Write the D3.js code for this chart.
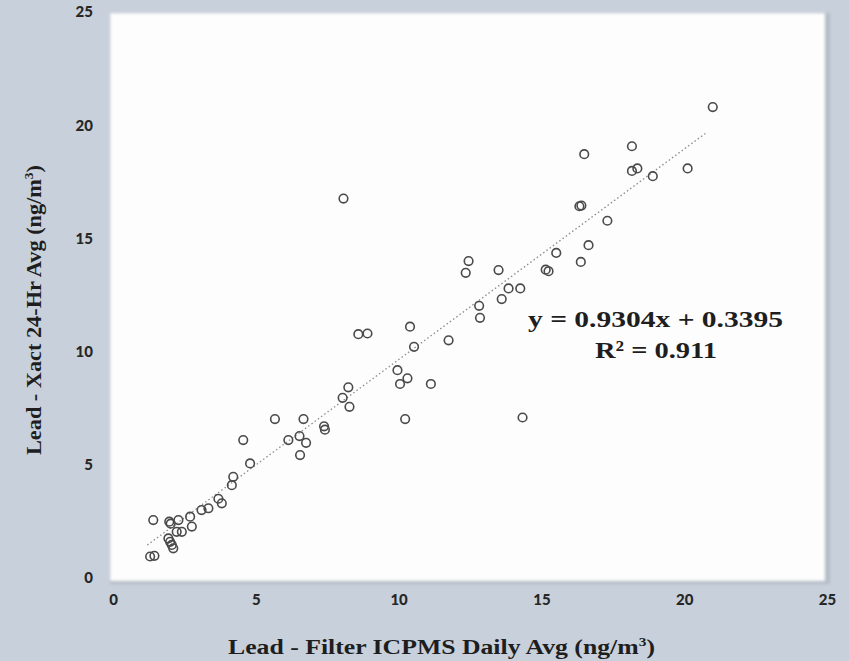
<!DOCTYPE html>
<html>
<head>
<meta charset="utf-8">
<script src="https://cdn.jsdelivr.net/npm/d3@7"></script>
<style>
  body { margin: 0; background: #c8d0db; }
  svg { display: block; }
</style>
</head>
<body>
<script>
// Filter ICPMS daily avg (x) vs Xact 24-hr avg (y), ng/m3
const xVals = [1.30, 1.45, 1.41, 1.97, 2.29, 2.70, 2.76, 2.41, 2.23, 1.94, 2.00, 2.06, 2.11, 2.02,
  3.10, 3.34, 3.69, 3.81, 4.21, 4.16, 4.56, 4.80, 5.67, 6.14, 6.53, 6.76, 6.55, 6.67, 7.39, 7.42,
  8.04, 8.24, 8.28, 8.07, 8.59, 8.91, 9.96, 10.05, 10.31, 10.23, 10.40, 10.54, 11.13, 11.75,
  12.35, 12.45, 12.82, 12.85, 13.50, 13.61, 13.85, 14.26, 14.34, 15.15, 15.25, 15.52, 16.38,
  16.33, 16.40, 16.65, 16.50, 17.31, 18.17, 18.17, 18.36, 18.90, 20.12, 21.00];
const yVals = [0.95, 0.98, 2.56, 2.49, 2.56, 2.71, 2.27, 2.04, 2.04, 1.75, 1.60, 1.46, 1.31, 2.40,
  3.00, 3.08, 3.50, 3.30, 4.47, 4.10, 6.09, 5.06, 7.02, 6.09, 6.27, 5.97, 5.43, 7.02, 6.70, 6.55,
  7.96, 8.42, 7.56, 16.76, 10.77, 10.80, 9.18, 8.57, 8.82, 7.02, 11.10, 10.21, 8.57, 10.50,
  13.48, 14.00, 12.02, 11.49, 13.60, 12.32, 12.79, 12.79, 7.09, 13.62, 13.55, 14.36, 13.96,
  16.42, 16.45, 14.70, 18.72, 15.78, 19.07, 17.98, 18.09, 17.75, 18.09, 20.80];

const xTicks = [0, 5, 10, 15, 20, 25];
const yTicks = [0, 5, 10, 15, 20, 25];

// linear fit shown on chart
const slope = 0.9304;
const intercept = 0.3395;
const fitRange = [1.2, 20.8];
const eqLabel = "y = 0.9304x + 0.3395";
const r2Label = "R² = 0.911";

let width = 849;
let height = 661;

let margin = { top: 12, bottom: 83, left: 113, right: 22 };

const points = xVals.map((x, i) => ({ x: x, y: yVals[i] }));

let svg = d3.select("body").append("svg")
  .attr("width", width)
  .attr("height", height);

let xScale = d3.scaleLinear()
  .domain([0, 25])
  .range([margin.left, width - margin.right]);

let yScale = d3.scaleLinear()
  .domain([0, 25])
  .range([height - margin.bottom, margin.top]);

// soft shadow + white plot area
const defs = svg.append("defs");
defs.append("filter").attr("id", "soft")
  .append("feGaussianBlur").attr("stdDeviation", 1.5);

svg.append("rect")
  .attr("x", xScale(0) - 3)
  .attr("y", yScale(25) + 1)
  .attr("width", xScale(25) - xScale(0) + 6)
  .attr("height", yScale(0) - yScale(25) + 5)
  .attr("fill", "#b4bcc6")
  .attr("filter", "url(#soft)");

svg.append("rect")
  .attr("x", xScale(0) - 3)
  .attr("y", yScale(25) + 1)
  .attr("width", xScale(25) - xScale(0) + 1)
  .attr("height", yScale(0) - yScale(25) + 2)
  .attr("fill", "#fdfdfd")
  .attr("filter", "url(#soft)");

// axes (labels only, no lines)
let xAxis = svg.append("g")
  .attr("transform", `translate(0,${yScale(0) + 22})`)
  .call(d3.axisBottom(xScale).tickValues(xTicks).tickSize(0).tickPadding(0));

let yAxis = svg.append("g")
  .attr("transform", `translate(${margin.left - 20},0)`)
  .call(d3.axisLeft(yScale).tickValues(yTicks).tickSize(0).tickPadding(0));

[xAxis, yAxis].forEach(g => {
  g.select(".domain").remove();
  g.selectAll("text")
    .style("font-family", "Lato, 'Open Sans', sans-serif")
    .style("font-weight", "900")
    .style("font-size", "15px")
    .attr("fill", "#262626");
});
xAxis.selectAll("text").attr("dy", "0.35em");

// regression line (dotted)
svg.append("line")
  .attr("x1", xScale(fitRange[0]))
  .attr("y1", yScale(slope * fitRange[0] + intercept))
  .attr("x2", xScale(fitRange[1]))
  .attr("y2", yScale(slope * fitRange[1] + intercept))
  .attr("stroke", "#8a8a8a")
  .attr("stroke-width", 1.3)
  .attr("stroke-dasharray", "1.5,2.5");

// points
svg.selectAll("circle.pt")
  .data(points)
  .enter()
  .append("circle")
  .attr("class", "pt")
  .attr("cx", d => xScale(d.x))
  .attr("cy", d => yScale(d.y))
  .attr("r", 4.3)
  .attr("fill", "none")
  .attr("stroke", "#4a4a4a")
  .attr("stroke-width", 1.6);

// equation text (the source image is stretched wide, so use textLength)
const serif = "'Liberation Serif', 'Times New Roman', serif";
svg.append("text")
  .attr("x", 528)
  .attr("y", 327)
  .attr("textLength", 255)
  .attr("lengthAdjust", "spacingAndGlyphs")
  .style("font-family", serif)
  .style("font-weight", "bold")
  .style("font-size", "24px")
  .attr("fill", "#1e1e1e")
  .text(eqLabel);

svg.append("text")
  .attr("x", 595)
  .attr("y", 358)
  .attr("textLength", 122)
  .attr("lengthAdjust", "spacingAndGlyphs")
  .style("font-family", serif)
  .style("font-weight", "bold")
  .style("font-size", "24px")
  .attr("fill", "#1e1e1e")
  .text(r2Label);

// axis titles
const xTitle = svg.append("text")
  .attr("x", 228)
  .attr("y", 654)
  .attr("textLength", 427)
  .attr("lengthAdjust", "spacingAndGlyphs")
  .style("font-family", serif)
  .style("font-weight", "bold")
  .style("font-size", "20px")
  .attr("fill", "#1e1e1e");
xTitle.append("tspan").text("Lead - Filter ICPMS Daily Avg (ng/m");
xTitle.append("tspan").attr("dy", -8).style("font-size", "12px").text("3");
xTitle.append("tspan").attr("dy", 8).text(")");

const yTitle = svg.append("text")
  .attr("transform", "translate(41,455) rotate(-90)")
  .attr("x", 0)
  .attr("textLength", 290)
  .attr("lengthAdjust", "spacingAndGlyphs")
  .style("font-family", serif)
  .style("font-weight", "bold")
  .style("font-size", "20px")
  .attr("fill", "#1e1e1e");
yTitle.append("tspan").text("Lead - Xact 24-Hr Avg (ng/m");
yTitle.append("tspan").attr("dy", -8).style("font-size", "12px").text("3");
yTitle.append("tspan").attr("dy", 8).text(")");
</script>
</body>
</html>
